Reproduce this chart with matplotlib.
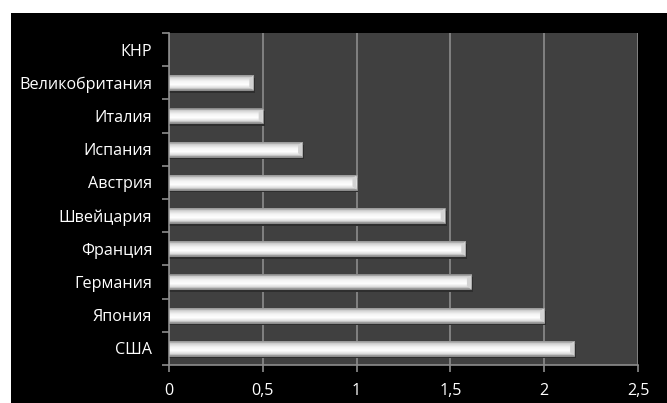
import numpy as np
import matplotlib.pyplot as plt
from matplotlib.patches import Rectangle, Polygon
from matplotlib.colors import LinearSegmentedColormap

# ---------------- DATA ----------------
countries = ["США", "Япония", "Германия", "Франция", "Швейцария",
             "Австрия", "Испания", "Италия", "Великобритания", "КНР"]
values = [2.16, 2.0, 1.61, 1.58, 1.47, 1.0, 0.71, 0.5, 0.45, 0.0]
xticks = [0, 0.5, 1, 1.5, 2, 2.5]
xtick_labels = ["0", "0,5", "1", "1,5", "2", "2,5"]

plt.rcParams['font.family'] = ['Open Sans', 'DejaVu Sans']

BAR_H = 0.44
CAP = 0.022  # bevel width at bar end, in data units

fig = plt.figure(figsize=(6.67, 4.03), dpi=100)
fig.patch.set_facecolor("white")
# black panel behind the chart
fig.patches.append(Rectangle((11 / 667, 0), 1, 1 - 13 / 403, transform=fig.transFigure,
                             facecolor="black", edgecolor="none", zorder=-5))

ax = fig.add_axes([169 / 667, 1 - 365 / 403, 469 / 667, 332 / 403])
ax.set_facecolor("#404040")

# vertical shading for the bevelled bars
shade = LinearSegmentedColormap.from_list(
    "bevel", [(0, "#8a8a8a"), (0.12, "#d8d8d8"), (0.35, "#ffffff"),
              (0.6, "#f4f4f4"), (0.85, "#cfcfcf"), (1, "#7a7a7a")])
grad = np.linspace(1, 0, 64).reshape(-1, 1)

ypos = np.arange(len(countries))
for y, v in zip(ypos, values):
    if v <= 0:
        continue
    # drop shadow
    ax.add_patch(Rectangle((0, y - BAR_H / 2 - 0.08), v + 0.01, BAR_H,
                           facecolor="#2e2e2e", edgecolor="none", zorder=2))
    ax.imshow(grad, cmap=shade, aspect="auto", interpolation="bilinear",
              extent=(0, v, y - BAR_H / 2, y + BAR_H / 2), zorder=3)
    # bevelled end cap
    ax.add_patch(Polygon([(v - CAP, y + BAR_H / 2 - 0.1), (v, y + BAR_H / 2),
                          (v, y - BAR_H / 2), (v - CAP, y - BAR_H / 2 + 0.1)],
                         closed=True, facecolor="#d2d2d2", edgecolor="none", zorder=4))
    ax.add_patch(Rectangle((0, y - BAR_H / 2), v, BAR_H, facecolor="none",
                           edgecolor="#a0a0a0", linewidth=0.6, zorder=5))

ax.set_xlim(0, 2.5)
ax.set_ylim(-0.5, len(countries) - 0.5)
ax.set_xticks(xticks)
ax.set_xticklabels(xtick_labels)
ax.set_yticks(ypos)
ax.set_yticklabels(countries)
ax.set_yticks(np.arange(-0.5, len(countries), 1), minor=True)

ax.grid(axis="x", color="#8c8c8c", linewidth=1.2, zorder=1)
ax.set_axisbelow(True)

for side in ["top", "right"]:
    ax.spines[side].set_visible(False)
for side in ["left", "bottom"]:
    ax.spines[side].set_color("#8c8c8c")
    ax.spines[side].set_linewidth(1.2)

ax.tick_params(axis="y", which="major", length=0, pad=12, labelcolor="white", labelsize=11.6)
ax.tick_params(axis="y", which="minor", length=5, color="#8c8c8c", width=1.2)
ax.tick_params(axis="x", length=5, color="#8c8c8c", width=1.2, pad=8,
               labelcolor="white", labelsize=11.6)

fig.savefig("out.png", dpi=100, facecolor=fig.get_facecolor())
